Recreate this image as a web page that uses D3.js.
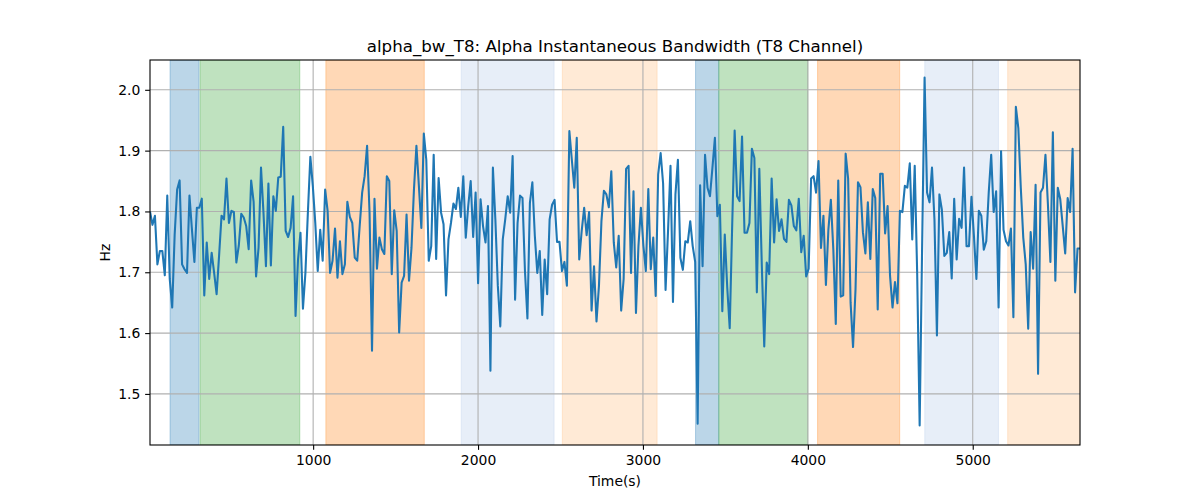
<!DOCTYPE html>
<html>
<head>
<meta charset="utf-8">
<script src="https://cdn.jsdelivr.net/npm/d3@7"></script>
<style>
  html, body { margin: 0; padding: 0; background: #fff; }
  svg { display: block; font-family: "DejaVu Sans", sans-serif; }
</style>
</head>
<body>
<svg id="chart" width="1200" height="500"></svg>
<script>
// ---- data ----
const title = "alpha_bw_T8: Alpha Instantaneous Bandwidth (T8 Channel)";
const xLabel = "Time(s)";
const yLabel = "Hz";
const timeStart = 10.6;
const timeStep = 14.96;
const values = [
  1.80, 1.778, 1.793, 1.713, 1.735, 1.735, 1.695, 1.826, 1.689, 1.642, 1.762, 1.836, 1.851, 1.713, 1.705, 1.699, 1.826, 1.770, 1.717, 1.806, 1.806, 1.821, 1.662, 1.749, 1.689, 1.732, 1.699, 1.664, 1.727, 1.793, 1.787, 1.854, 1.781, 1.801, 1.799, 1.716, 1.744, 1.796, 1.790, 1.776, 1.738, 1.851, 1.816, 1.693, 1.740, 1.872, 1.798, 1.710, 1.846, 1.711, 1.825, 1.801, 1.856, 1.857, 1.939,
  1.768, 1.758, 1.773, 1.825, 1.628, 1.721, 1.765, 1.640, 1.699, 1.798, 1.890, 1.842, 1.781, 1.702, 1.770, 1.719, 1.836, 1.801, 1.699, 1.719, 1.772, 1.691, 1.751, 1.697, 1.713, 1.816, 1.791, 1.781, 1.724, 1.719, 1.776, 1.831, 1.858, 1.908, 1.798, 1.571, 1.821, 1.706, 1.757, 1.738, 1.730, 1.858, 1.850, 1.697, 1.802, 1.768, 1.601, 1.683, 1.694, 1.795, 1.686, 1.740, 1.836, 1.908,
  1.842, 1.773, 1.928, 1.885, 1.719, 1.743, 1.893, 1.722, 1.855, 1.798, 1.779, 1.662, 1.754, 1.781, 1.813, 1.804, 1.839, 1.791, 1.858, 1.757, 1.809, 1.850, 1.758, 1.831, 1.682, 1.820, 1.776, 1.749, 1.809, 1.538, 1.872, 1.787, 1.678, 1.611, 1.754, 1.787, 1.825, 1.798, 1.891, 1.655, 1.781, 1.826, 1.822, 1.702, 1.624, 1.814, 1.848, 1.760, 1.699, 1.735, 1.630, 1.721, 1.664,
  1.787, 1.811, 1.819, 1.750, 1.750, 1.702, 1.717, 1.678, 1.932, 1.885, 1.839, 1.921, 1.721, 1.768, 1.806, 1.761, 1.799, 1.637, 1.710, 1.619, 1.678, 1.784, 1.834, 1.828, 1.807, 1.866, 1.749, 1.708, 1.760, 1.637, 1.689, 1.870, 1.875, 1.699, 1.833, 1.633, 1.743, 1.806, 1.744, 1.702, 1.837, 1.705, 1.757, 1.661, 1.861, 1.896, 1.846, 1.671, 1.768, 1.875, 1.651, 1.828, 1.885, 1.724,
  1.704, 1.751, 1.749, 1.784, 1.743, 1.717, 1.451, 1.843, 1.710, 1.893, 1.839, 1.825, 1.872, 1.921, 1.792, 1.811, 1.636, 1.762, 1.675, 1.608, 1.776, 1.933, 1.825, 1.817, 1.923, 1.765, 1.765, 1.781, 1.903, 1.888, 1.667, 1.870, 1.713, 1.578, 1.716, 1.697, 1.854, 1.749, 1.820, 1.768, 1.787, 1.755, 1.750, 1.819, 1.810, 1.776, 1.769, 1.821, 1.733, 1.760, 1.693, 1.706, 1.854,
  1.858, 1.831, 1.883, 1.740, 1.793, 1.679, 1.770, 1.819, 1.738, 1.615, 1.851, 1.660, 1.662, 1.895, 1.854, 1.650, 1.577, 1.672, 1.848, 1.840, 1.766, 1.731, 1.815, 1.722, 1.837, 1.822, 1.639, 1.862, 1.862, 1.764, 1.809, 1.694, 1.642, 1.684, 1.649, 1.801, 1.799, 1.842, 1.839, 1.879, 1.754, 1.875, 1.697, 1.448, 1.743, 2.020, 1.831, 1.815, 1.872, 1.787, 1.596, 1.828, 1.803,
  1.727, 1.732, 1.766, 1.690, 1.821, 1.721, 1.788, 1.773, 1.872, 1.743, 1.743, 1.824, 1.760, 1.689, 1.801, 1.793, 1.737, 1.751, 1.831, 1.893, 1.799, 1.833, 1.642, 1.899, 1.770, 1.751, 1.744, 1.772, 1.626, 1.972, 1.937, 1.839, 1.757, 1.713, 1.607, 1.766, 1.706, 1.844, 1.533, 1.831, 1.839, 1.893, 1.811, 1.717, 1.930, 1.686, 1.839, 1.820, 1.776, 1.731, 1.822, 1.799, 1.903, 1.667, 1.739, 1.739
];
const times = values.map((v, i) => timeStart + i * timeStep);

const spanStarts = [132, 314, 1077, 1898, 2511, 3319, 3460, 4059, 4709, 5212];
const spanEnds   = [308, 919, 1674, 2461, 3086, 3460, 4000, 4557, 5156, 5655];
const spanColors = ["#1f77b4", "#2ca02c", "#ff7f0e", "#aec7e8", "#ffbb78", "#1f77b4", "#2ca02c", "#ff7f0e", "#aec7e8", "#ffbb78"];

const xTicks = [1000, 2000, 3000, 4000, 5000];
const yTicks = [1.5, 1.6, 1.7, 1.8, 1.9, 2.0];
const yDomain = [1.416, 2.049];

// ---- layout ----
const svg = d3.select("#chart");
const L = 150, R = 1080, T = 60, B = 445;

const x = d3.scaleLinear().domain([times[0], times[times.length - 1]]).range([L, R]);
const y = d3.scaleLinear().domain(yDomain).range([B, T]);

svg.append("rect").attr("width", 1200).attr("height", 500).attr("fill", "#fff");

const defs = svg.append("defs");
defs.append("clipPath").attr("id", "clip")
  .append("rect").attr("x", L).attr("y", T).attr("width", R - L).attr("height", B - T);

const plot = svg.append("g").attr("clip-path", "url(#clip)");

// spans
plot.selectAll("rect.span")
  .data(spanStarts.map((s, i) => ({ s, e: spanEnds[i], c: spanColors[i] })))
  .enter().append("rect")
  .attr("class", "span")
  .attr("x", d => x(d.s))
  .attr("width", d => x(d.e) - x(d.s))
  .attr("y", T)
  .attr("height", B - T)
  .attr("fill", d => d.c)
  .attr("fill-opacity", 0.3)
  .attr("stroke", d => d.c)
  .attr("stroke-opacity", 0.3)
  .attr("stroke-width", 1);

// grid
plot.selectAll("line.gx").data(xTicks).enter().append("line")
  .attr("x1", d => x(d)).attr("x2", d => x(d))
  .attr("y1", T).attr("y2", B)
  .attr("stroke", "#b0b0b0").attr("stroke-width", 1.1);
plot.selectAll("line.gy").data(yTicks).enter().append("line")
  .attr("y1", d => y(d)).attr("y2", d => y(d))
  .attr("x1", L).attr("x2", R)
  .attr("stroke", "#b0b0b0").attr("stroke-width", 1.1);

// line
const line = d3.line().x((d, i) => x(times[i])).y(d => y(d));
plot.append("path")
  .datum(values)
  .attr("d", line)
  .attr("fill", "none")
  .attr("stroke", "#1f77b4")
  .attr("stroke-width", 2.08)
  .attr("stroke-linejoin", "round")
  .attr("stroke-linecap", "butt");

// axes
const xAxis = d3.axisBottom(x).tickValues(xTicks).tickFormat(d3.format("d")).tickSizeOuter(0).tickSize(4.86).tickPadding(4.86);
const yAxis = d3.axisLeft(y).tickValues(yTicks).tickFormat(d3.format(".1f")).tickSizeOuter(0).tickSize(4.86).tickPadding(4.86);

const gx = svg.append("g").attr("transform", `translate(0,${B})`).call(xAxis);
const gy = svg.append("g").attr("transform", `translate(${L},0)`).call(yAxis);
[gx, gy].forEach(g => {
  g.select(".domain").remove();
  g.selectAll(".tick line").attr("stroke", "#000").attr("stroke-width", 1.1);
  g.selectAll(".tick text").attr("fill", "#000").style("font-size", "13.9px").style("font-family", "DejaVu Sans");
});

// frame
svg.append("rect").attr("x", L).attr("y", T).attr("width", R - L).attr("height", B - T)
  .attr("fill", "none").attr("stroke", "#000").attr("stroke-width", 1.1);

// texts
svg.append("text").attr("x", (L + R) / 2).attr("y", 52).attr("text-anchor", "middle")
  .style("font-size", "16.67px").attr("fill", "#000").text(title);
svg.append("text").attr("x", (L + R) / 2).attr("y", 486).attr("text-anchor", "middle")
  .style("font-size", "13.9px").attr("fill", "#000").text(xLabel);
svg.append("text").attr("transform", `translate(110,${(T + B) / 2}) rotate(-90)`).attr("text-anchor", "middle")
  .style("font-size", "13.9px").attr("fill", "#000").text(yLabel);
</script>
</body>
</html>
